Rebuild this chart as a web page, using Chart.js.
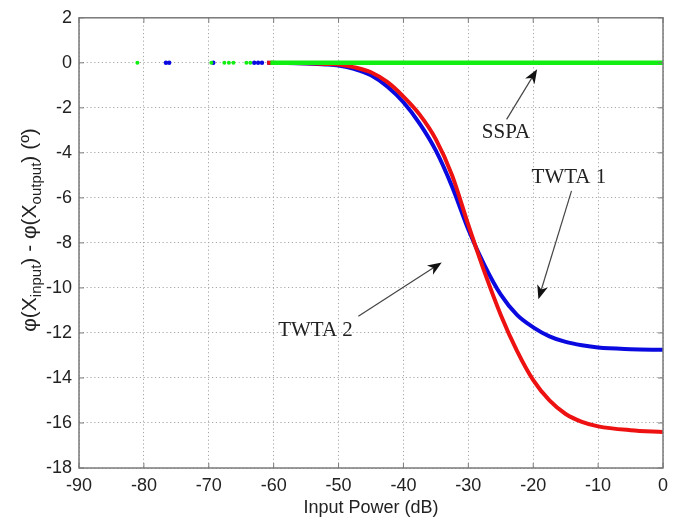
<!DOCTYPE html>
<html>
<head>
<meta charset="utf-8">
<script src="https://cdn.jsdelivr.net/npm/chart.js@4.4.0/dist/chart.umd.min.js"></script>
<style>
  html, body { margin: 0; padding: 0; background: #fff; }
  #wrap { width: 687px; height: 522px; }
</style>
</head>
<body>
<div id="wrap"><canvas id="chart"></canvas></div>
<script>
// input power sweep (dB) for the two TWT amplifiers
const powerDb = [-61, -58, -55, -52, -50, -47.5, -45, -42.5, -40, -37.5, -35, -32.5, -30, -27.5, -25, -22.5, -20, -17.5, -15, -12.5, -10, -5, 0];
const twta1Phase = [0, -0.01, -0.03, -0.07, -0.12, -0.28, -0.55, -1.05, -1.75, -2.7, -3.9, -5.5, -7.4, -9.0, -10.3, -11.2, -11.75, -12.15, -12.4, -12.55, -12.65, -12.72, -12.75];
const twta2Phase = [0, -0.01, -0.02, -0.05, -0.08, -0.2, -0.42, -0.85, -1.5, -2.3, -3.4, -5.0, -7.2, -9.3, -11.2, -12.8, -14.1, -15.0, -15.6, -15.95, -16.15, -16.32, -16.4];

// SSPA phase stays flat
const sspaPower = [-60.5, -50, -40, -30, -20, -10, 0];
const sspaPhase = [0, 0, 0, 0, 0, 0, 0];

// isolated samples at low input power
const sspaLowPower = [-81, -69.6, -67.6, -66.9, -66.2, -64.2, -63.6];
const sspaLowPhase = [0, 0, 0, 0, 0, 0, 0];
const twta1LowPower = [-76.6, -76.1, -69.3, -63, -62.4, -61.8];
const twta1LowPhase = [0, 0, 0, 0, 0, 0];

const xTicks = [-90, -80, -70, -60, -50, -40, -30, -20, -10, 0];
const yTicks = [2, 0, -2, -4, -6, -8, -10, -12, -14, -16, -18];

// callouts, in axis units
const callouts = [
  { text: 'SSPA',   at: [-24.2, -3.34], from: [-24.1, -2.51], to: [-19.4, -0.29] },
  { text: 'TWTA 1', at: [-14.5, -5.35], from: [-14.1, -5.69], to: [-19.2, -10.5] },
  { text: 'TWTA 2', at: [-53.55, -12.14], from: [-46.95, -11.26], to: [-34.1, -8.87] }
];

const BLUE = '#0a0ae0';
const RED = '#ee1111';
const GREEN = '#11ee11';

function pts(xs, ys) {
  return xs.map((x, i) => ({ x: x, y: ys[i] }));
}

// box, inner ticks, y title with subscripts, callouts
const decorations = {
  id: 'decorations',
  afterDatasetsDraw(chart) {
    const ctx = chart.ctx;
    const a = chart.chartArea;
    const xs = chart.scales.x, ys = chart.scales.y;
    ctx.save();
    ctx.strokeStyle = '#7a7a7a';
    ctx.lineWidth = 1.5;
    ctx.strokeRect(a.left, a.top, a.right - a.left, a.bottom - a.top);

    ctx.lineWidth = 1;
    ctx.beginPath();
    for (const t of xTicks) {
      const px = xs.getPixelForValue(t);
      ctx.moveTo(px, a.bottom); ctx.lineTo(px, a.bottom - 5);
      ctx.moveTo(px, a.top); ctx.lineTo(px, a.top + 5);
    }
    for (const t of yTicks) {
      const py = ys.getPixelForValue(t);
      ctx.moveTo(a.left, py); ctx.lineTo(a.left + 5, py);
      ctx.moveTo(a.right, py); ctx.lineTo(a.right - 5, py);
    }
    ctx.stroke();

    // callout labels and arrows
    ctx.fillStyle = '#222';
    ctx.font = '21px "Liberation Serif", "Times New Roman", serif';
    ctx.textAlign = 'center';
    ctx.textBaseline = 'alphabetic';
    for (const c of callouts) {
      ctx.fillText(c.text, xs.getPixelForValue(c.at[0]), ys.getPixelForValue(c.at[1]));
      const x0 = xs.getPixelForValue(c.from[0]), y0 = ys.getPixelForValue(c.from[1]);
      const x1 = xs.getPixelForValue(c.to[0]), y1 = ys.getPixelForValue(c.to[1]);
      const ang = Math.atan2(y1 - y0, x1 - x0);
      ctx.strokeStyle = '#444';
      ctx.lineWidth = 1.2;
      ctx.beginPath();
      ctx.moveTo(x0, y0);
      ctx.lineTo(x1 - 8 * Math.cos(ang), y1 - 8 * Math.sin(ang));
      ctx.stroke();
      ctx.save();
      ctx.translate(x1, y1);
      ctx.rotate(ang);
      ctx.fillStyle = '#111';
      ctx.beginPath();
      ctx.moveTo(0, 0);
      ctx.lineTo(-14, -5.5);
      ctx.lineTo(-10, 0);
      ctx.lineTo(-14, 5.5);
      ctx.closePath();
      ctx.fill();
      ctx.restore();
    }

    // y axis title: phi(X_input) - phi(X_output) (º)
    const parts = [
      ['\u03C6(X', false], ['input', true], [') - \u03C6(X', false], ['output', true], [') (\u00BA)', false]
    ];
    const big = '21px "Liberation Sans", Arial, sans-serif';
    const small = '15px "Liberation Sans", Arial, sans-serif';
    let total = 0;
    for (const [s, sub] of parts) { ctx.font = sub ? small : big; total += ctx.measureText(s).width; }
    ctx.translate(30, 230);
    ctx.rotate(-Math.PI / 2);
    ctx.fillStyle = '#222';
    ctx.textAlign = 'left';
    ctx.textBaseline = 'middle';
    let cx = -total / 2;
    for (const [s, sub] of parts) {
      ctx.font = sub ? small : big;
      ctx.fillText(s, cx, sub ? 7 : 0);
      cx += ctx.measureText(s).width;
    }
    ctx.restore();
  }
};

new Chart(document.getElementById('chart'), {
  type: 'scatter',
  data: {
    datasets: [
      { label: 'SSPA', data: pts(sspaPower, sspaPhase), showLine: true, borderColor: GREEN, borderWidth: 4.5, pointRadius: 0 },
      { label: 'SSPA low', data: pts(sspaLowPower, sspaLowPhase), showLine: false, backgroundColor: GREEN, borderWidth: 0, pointRadius: 2 },
      { label: 'TWTA 2', data: pts(powerDb, twta2Phase), showLine: true, borderColor: RED, borderWidth: 4, pointRadius: 0, cubicInterpolationMode: 'monotone' },
      { label: 'TWTA 1', data: pts(powerDb, twta1Phase), showLine: true, borderColor: BLUE, borderWidth: 4, pointRadius: 0, cubicInterpolationMode: 'monotone' },
      { label: 'TWTA 1 low', data: pts(twta1LowPower, twta1LowPhase), showLine: false, backgroundColor: BLUE, borderWidth: 0, pointRadius: 2.2 }
    ]
  },
  options: {
    responsive: true,
    maintainAspectRatio: false,
    animation: false,
    layout: { padding: { top: 11, right: 24, left: 0, bottom: 0 } },
    plugins: { legend: { display: false }, tooltip: { enabled: false } },
    scales: {
      x: {
        type: 'linear', min: -90, max: 0,
        afterBuildTicks: s => { s.ticks = xTicks.map(v => ({ value: v })); },
        afterFit: s => { s.height = 54; },
        border: { display: false, dash: [1.2, 2.6] },
        grid: { color: '#a8a8a8', lineWidth: 1, drawTicks: false },
        ticks: { color: '#222', font: { family: '"Liberation Sans", Arial, sans-serif', size: 18 }, padding: 7, maxRotation: 0 },
        title: { display: true, text: 'Input Power (dB)', color: '#222', font: { family: '"Liberation Sans", Arial, sans-serif', size: 18 }, padding: { top: 0, bottom: 3 } }
      },
      y: {
        type: 'linear', min: -18, max: 2,
        afterBuildTicks: s => { s.ticks = yTicks.map(v => ({ value: v })); },
        afterFit: s => { s.width = 79; },
        border: { display: false, dash: [1.2, 2.6] },
        grid: { color: '#a8a8a8', lineWidth: 1, drawTicks: false },
        ticks: { color: '#222', font: { family: '"Liberation Sans", Arial, sans-serif', size: 18 }, padding: 7 }
      }
    }
  },
  plugins: [decorations]
});
</script>
</body>
</html>
